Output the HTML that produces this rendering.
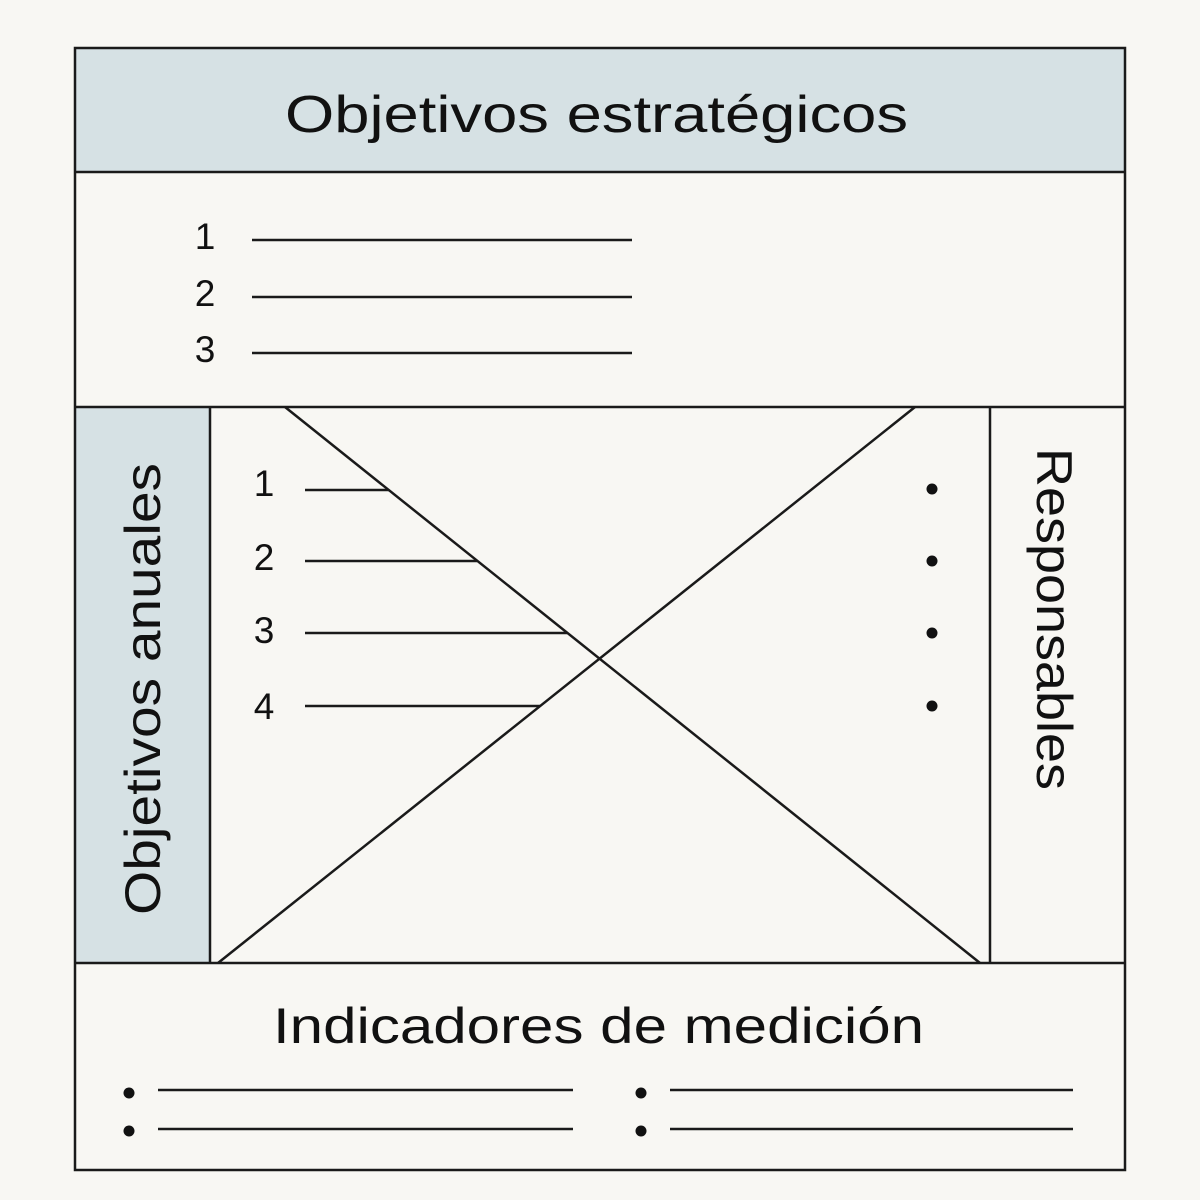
<!DOCTYPE html>
<html><head><meta charset="utf-8"><style>
html,body{margin:0;padding:0;background:#f8f7f3;}
svg{display:block}
text{font-family:"Liberation Sans",sans-serif;fill:#111;}
</style></head><body>
<svg width="1200" height="1200" viewBox="0 0 1200 1200">
<rect x="0" y="0" width="1200" height="1200" fill="#f8f7f3"/>
<rect x="75" y="48" width="1050" height="124" fill="#d6e1e4"/>
<rect x="75" y="407" width="135" height="556" fill="#d6e1e4"/>
<g stroke="#1a1a1a" stroke-width="2.5" fill="none">
<rect x="75" y="48" width="1050" height="1122"/>
<line x1="75" y1="172" x2="1125" y2="172"/>
<line x1="75" y1="407" x2="1125" y2="407"/>
<line x1="75" y1="963" x2="1125" y2="963"/>
<line x1="210" y1="407" x2="210" y2="963"/>
<line x1="990" y1="407" x2="990" y2="963"/>
<line x1="285" y1="407" x2="980" y2="963"/>
<line x1="915" y1="407" x2="218" y2="963"/>
<line x1="252" y1="240" x2="632" y2="240"/>
<line x1="252" y1="297" x2="632" y2="297"/>
<line x1="252" y1="353" x2="632" y2="353"/>
<line x1="305" y1="490" x2="389" y2="490"/>
<line x1="305" y1="561" x2="477" y2="561"/>
<line x1="305" y1="633" x2="567" y2="633"/>
<line x1="305" y1="706" x2="540" y2="706"/>
<line x1="158" y1="1090" x2="573" y2="1090"/>
<line x1="158" y1="1129" x2="573" y2="1129"/>
<line x1="670" y1="1090" x2="1073" y2="1090"/>
<line x1="670" y1="1129" x2="1073" y2="1129"/>
</g>
<g fill="#111">
<circle cx="932" cy="489" r="5.5"/><circle cx="932" cy="561" r="5.5"/>
<circle cx="932" cy="633" r="5.5"/><circle cx="932" cy="706" r="5.5"/>
<circle cx="129" cy="1093" r="5.5"/><circle cx="129" cy="1131" r="5.5"/>
<circle cx="641" cy="1093" r="5.5"/><circle cx="641" cy="1131" r="5.5"/>
</g>
<text x="285" y="132" font-size="52" textLength="623" lengthAdjust="spacingAndGlyphs">Objetivos estratégicos</text>
<text x="205" y="249" font-size="37" text-anchor="middle">1</text>
<text x="205" y="306" font-size="37" text-anchor="middle">2</text>
<text x="205" y="362" font-size="37" text-anchor="middle">3</text>
<text x="264" y="496" font-size="37" text-anchor="middle">1</text>
<text x="264" y="570" font-size="37" text-anchor="middle">2</text>
<text x="264" y="643" font-size="37" text-anchor="middle">3</text>
<text x="264" y="719" font-size="37" text-anchor="middle">4</text>
<text transform="translate(160,915) rotate(-90)" font-size="50" textLength="452" lengthAdjust="spacingAndGlyphs">Objetivos anuales</text>
<text transform="translate(1037,448) rotate(90)" font-size="50" textLength="342" lengthAdjust="spacingAndGlyphs">Responsables</text>
<text x="273" y="1043" font-size="50" textLength="651" lengthAdjust="spacingAndGlyphs">Indicadores de medición</text>
</svg>
</body></html>
